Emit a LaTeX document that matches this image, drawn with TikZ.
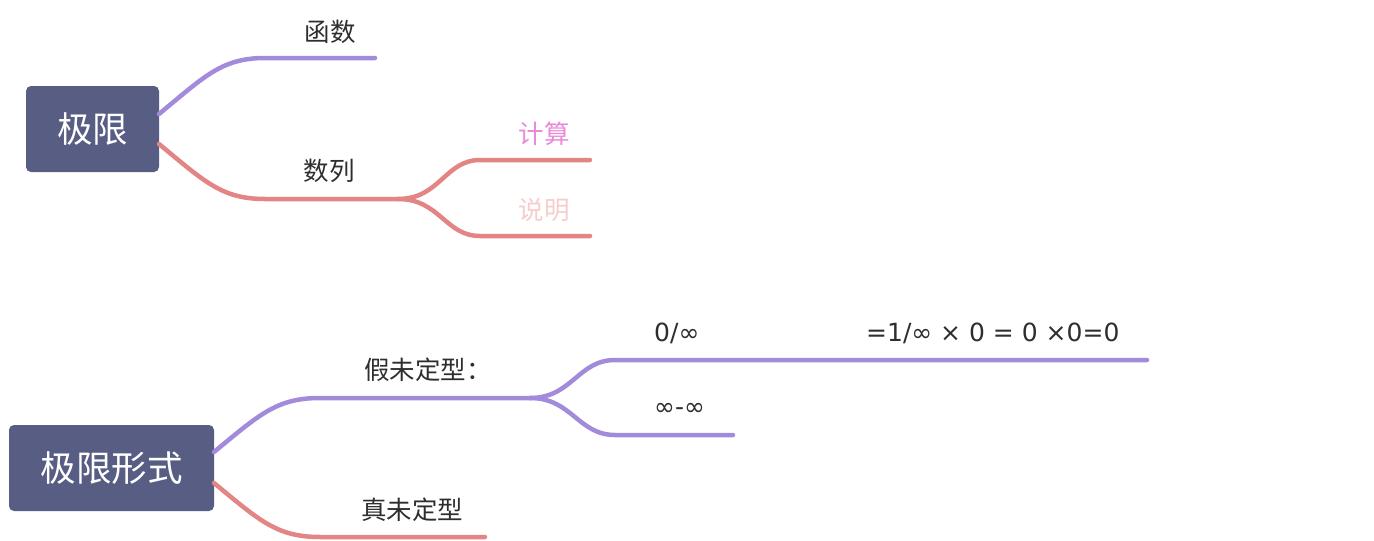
\documentclass[tikz,border=0pt]{standalone}
\usepackage{fontspec}
\setmainfont{Noto Sans CJK SC}
\newfontfamily\latinf{DejaVu Sans}
\definecolor{topicc}{HTML}{575D83}
\definecolor{purp}{HTML}{A38BDC}
\definecolor{redc}{HTML}{E38585}
\definecolor{txtc}{HTML}{2E2E2E}
\definecolor{pinkc}{HTML}{E98AD8}
\definecolor{lpinkc}{HTML}{F6CDCD}
\begin{document}
\begin{tikzpicture}[x=1pt,y=-1pt,
  topic/.style={fill=topicc, rounded corners=5pt, text=white, font=\fontsize{35.5}{38}\selectfont, inner sep=0pt, minimum height=86pt},
  lbl/.style={font=\fontsize{25.5}{28}\selectfont, text=txtc, inner sep=0pt},
  mlbl/.style={font=\latinf\fontsize{25}{28}\selectfont, text=txtc, inner sep=0pt},
  br/.style={line width=4.5pt, line cap=round}
]
\useasboundingbox (0,0) rectangle (1374,541);
\node[topic, minimum width=133pt] (A) at (92.5,129) {极限};
\node[topic, minimum width=205pt] (B) at (111.5,468) {极限形式};

% first map
\coordinate (a1) at (159,114);
\coordinate (a2) at (159,144);
\coordinate (f1) at (265,58);
\coordinate (f1e) at (375,58);
\coordinate (s1) at (265,199);
\coordinate (s1e) at (398,199);
\coordinate (c1) at (480,160);
\coordinate (c1e) at (590,160);
\coordinate (d1) at (480,236);
\coordinate (d1e) at (590,236);

\draw[br, purp] (a1) .. controls (205,76) and (222,58) .. (f1) -- (f1e);
\draw[br, redc] (a2) .. controls (205,182) and (222,199) .. (s1) -- (s1e);
\draw[br, redc] (s1e) .. controls (440,199) and (445,160) .. (c1) -- (c1e);
\draw[br, redc] (s1e) .. controls (440,199) and (445,236) .. (d1) -- (d1e);

\node[lbl] (t1) at (330,32) {函数};
\node[lbl] (t2) at (329,171) {数列};
\node[lbl, text=pinkc] (t3) at (544,134) {计算};
\node[lbl, text=lpinkc] (t4) at (544,210) {说明};

% second map
\coordinate (b1) at (214,452);
\coordinate (b2) at (214,483);
\coordinate (g1) at (320,398);
\coordinate (g1e) at (530,398);
\coordinate (h1) at (615,360);
\coordinate (h1e) at (1147,360);
\coordinate (k1) at (615,435);
\coordinate (k1e) at (733,435);
\coordinate (r1) at (320,537);
\coordinate (r1e) at (485,537);

\draw[br, purp] (b1) .. controls (260,414) and (277,398) .. (g1) -- (g1e);
\draw[br, purp] (g1e) .. controls (572,398) and (578,360) .. (h1) -- (h1e);
\draw[br, purp] (g1e) .. controls (572,398) and (578,435) .. (k1) -- (k1e);
\draw[br, redc] (b2) .. controls (260,521) and (277,537) .. (r1) -- (r1e);

\node[lbl] (t5) at (428,370) {假未定型：};
\node[mlbl, anchor=west] (t6) at (654,333) {0/∞};
\node[mlbl, anchor=west] (t7) at (866,333) {=1/∞ × 0 = 0 ×0=0};
\node[mlbl, anchor=west] (t8) at (654,409) {∞-∞};
\node[lbl] (t9) at (412,510) {真未定型};
\end{tikzpicture}
\end{document}
